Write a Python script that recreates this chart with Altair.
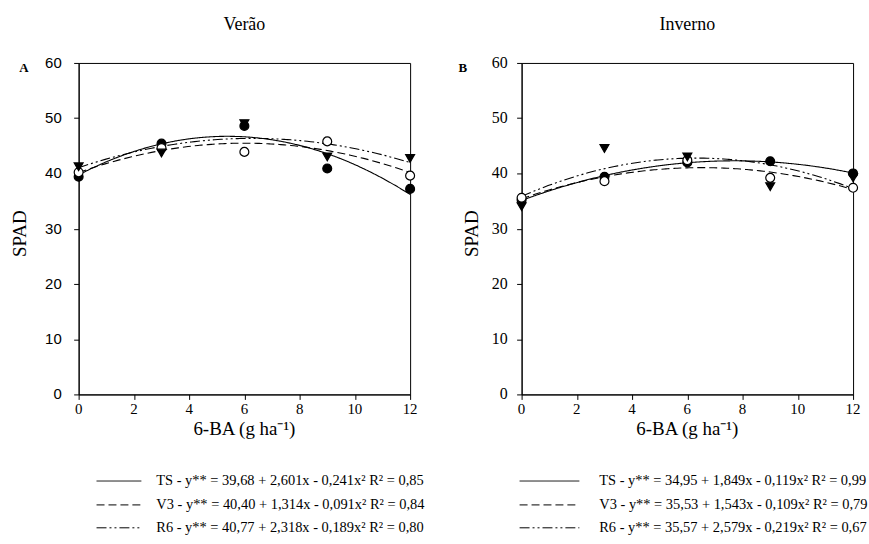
import altair as alt
import pandas as pd

doses = [0, 3, 6, 9, 12]
series_names = ["TS", "V3", "R6"]

verao_TS = [39.4, 45.4, 48.6, 40.9, 37.2]
verao_V3 = [40.2, 44.6, 43.9, 45.8, 39.6]
verao_R6 = [41.2, 43.7, 49.0, 43.0, 42.7]

inverno_TS = [35.2, 39.4, 42.0, 42.2, 40.0]
inverno_V3 = [35.6, 38.6, 42.4, 39.2, 37.4]
inverno_R6 = [34.0, 44.5, 43.0, 37.6, 39.2]

verao_eq = [
    "TS - y** = 39,68 + 2,601x - 0,241x\u00b2 R\u00b2 = 0,85",
    "V3 - y** = 40,40 + 1,314x - 0,091x\u00b2 R\u00b2 = 0,84",
    "R6 - y** = 40,77 + 2,318x - 0,189x\u00b2 R\u00b2 = 0,80",
]
inverno_eq = [
    "TS - y** = 34,95 + 1,849x - 0,119x\u00b2 R\u00b2 = 0,99",
    "V3 - y** = 35,53 + 1,543x - 0,109x\u00b2 R\u00b2 = 0,79",
    "R6 - y** = 35,57 + 2,579x - 0,219x\u00b2 R\u00b2 = 0,67",
]

x_ticks = [0, 2, 4, 6, 8, 10, 12]
y_ticks = [0, 10, 20, 30, 40, 50, 60]
x_title = "6-BA (g ha\u207b\u00b9)"
y_title = "SPAD"

SERIF = "Liberation Serif"
SANS = "Liberation Sans"
W, H = 333, 333
dashes = [[1, 0], [8, 4], [10, 3, 2, 3, 2, 3]]


def long_df(ts, v3, r6):
    rows = []
    for name, vals in zip(series_names, [ts, v3, r6]):
        for d, v in zip(doses, vals):
            rows.append({"dose": d, "spad": v, "series": name})
    return pd.DataFrame(rows)


XS = alt.Scale(domain=[0, 12], nice=False)
YS = alt.Scale(domain=[0, 60], nice=False)


def xenc():
    return alt.X("dose:Q", scale=XS,
                 axis=alt.Axis(values=x_ticks, title=None, grid=False, labels=False, tickSize=5))


def yenc():
    return alt.Y("spad:Q", scale=YS,
                 axis=alt.Axis(values=y_ticks, title=None, grid=False, labels=False, tickSize=5))


def text_layer(txt, x, y, **kw):
    return alt.Chart(pd.DataFrame({"t": [txt]})).mark_text(color="black", **kw).encode(
        text="t:N", x=alt.value(x), y=alt.value(y))


def panel(df, title, letter, eqs, ylab_font, ylab_size, ylab_x, ytitle_x, line_x0, line_x1, letter_x):
    base = alt.Chart(df)
    curves = base.transform_regression(
        "dose", "spad", method="poly", order=2, groupby=["series"], extent=[0, 12]
    ).mark_line(color="black", strokeWidth=1.1).encode(
        x=xenc(), y=yenc(),
        strokeDash=alt.StrokeDash("series:N", scale=alt.Scale(domain=series_names, range=dashes), legend=None),
    )
    pts = base.mark_point(filled=True, size=80, stroke="black", strokeWidth=1.2, opacity=1).encode(
        x=xenc(), y=yenc(),
        shape=alt.Shape("series:N", scale=alt.Scale(domain=series_names, range=["circle", "circle", "triangle-down"]), legend=None),
        fill=alt.Fill("series:N", scale=alt.Scale(domain=series_names, range=["black", "white", "black"]), legend=None),
    )
    xlab = alt.Chart(pd.DataFrame({"dose": x_ticks})).mark_text(
        font=SERIF, fontSize=15, color="black", baseline="middle").encode(
        x=alt.X("dose:Q", scale=XS), y=alt.value(H + 15), text="dose:Q")
    ylab = alt.Chart(pd.DataFrame({"spad": y_ticks})).mark_text(
        font=ylab_font, fontSize=ylab_size, color="black", align="right", baseline="middle").encode(
        y=alt.Y("spad:Q", scale=YS), x=alt.value(ylab_x), text="spad:Q")
    layers = [curves, pts, xlab, ylab]
    layers.append(text_layer(title, W / 2, -38, font=SERIF, fontSize=18))
    layers.append(text_layer(letter, letter_x, 5, font=SERIF, fontSize=13, fontWeight="bold"))
    layers.append(text_layer(x_title, W / 2, H + 35, font=SERIF, fontSize=19, baseline="middle"))
    layers.append(text_layer(y_title, ytitle_x, H / 2 + 5, font=SERIF, fontSize=19, angle=270, baseline="middle"))
    rows_y = [420, 444, 467]
    for i, (eq, dash) in enumerate(zip(eqs, dashes)):
        edf = pd.DataFrame({"t": [eq]})
        layers.append(alt.Chart(edf).mark_rule(color="black", strokeWidth=1, strokeDash=dash).encode(
            x=alt.value(line_x0), x2=alt.value(line_x1), y=alt.value(rows_y[i])))
        layers.append(alt.Chart(edf).mark_text(font=SERIF, fontSize=14.5, align="left", color="black").encode(
            text="t:N", x=alt.value(78), y=alt.value(rows_y[i])))
    return alt.layer(*layers).properties(width=W, height=H)


left = panel(long_df(verao_TS, verao_V3, verao_R6), "Verão", "A", verao_eq,
             SANS, 15, -17, -59, 18, 63, -55)
right = panel(long_df(inverno_TS, inverno_V3, inverno_R6), "Inverno", "B", inverno_eq,
              SERIF, 16, -14, -50, -2, 58, -59)

chart = alt.hconcat(left, right, spacing=112, bounds="flush").properties(
    padding={"left": 10, "top": 14, "right": 0, "bottom": 0}
).configure(background="white").configure_view(
    stroke="black", strokeWidth=1
).configure_axis(
    grid=False, domainColor="black", tickColor="black", domainWidth=1, tickWidth=1
)

chart.save("out.html", embed_options={"renderer": "svg", "actions": False})
